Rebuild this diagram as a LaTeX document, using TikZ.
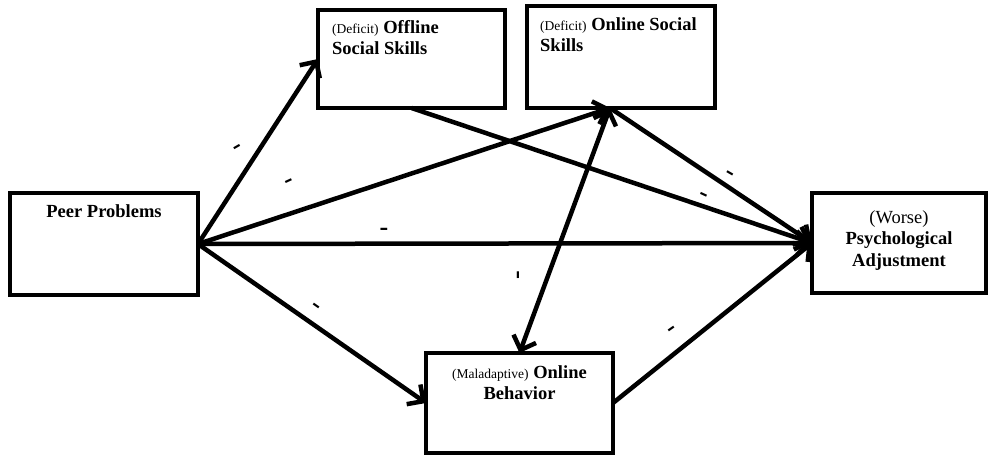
\documentclass[tikz,border=0pt]{standalone}
\usepackage{fontspec}
\setmainfont{Liberation Serif}
\usetikzlibrary{arrows.meta}
\begin{document}
\begin{tikzpicture}[x=1pt,y=-1pt,
  box/.style={draw, line width=4.5pt, inner sep=0pt, outer sep=0pt},
  txt/.style={inner sep=0pt, font=\fontsize{18.5}{21.5}\selectfont},
  tip/.style={Straight Barb[length=12pt,width=24pt,line width=4.5pt]},
  link/.style={line width=4.5pt, -{Straight Barb[length=12pt,width=24pt,line width=4.5pt]}},
  both/.style={line width=4.5pt, {Straight Barb[length=12pt,width=24pt,line width=4.5pt]}-{Straight Barb[length=12pt,width=24pt,line width=4.5pt]}},
  sign/.style={inner sep=0pt, font=\fontsize{26}{26}\selectfont\bfseries}
]
\newcommand{\sm}[1]{{\fontsize{13.5}{21.5}\selectfont #1}}
\useasboundingbox (0,0) rectangle (989,456);

% boxes
\node[box, minimum width=188pt, minimum height=102pt] (peer) at (104,244) {};
\node[box, minimum width=187pt, minimum height=98pt] (off) at (411.5,59) {};
\node[box, minimum width=188pt, minimum height=102pt] (onss) at (621,57) {};
\node[box, minimum width=187pt, minimum height=100pt] (beh) at (519.5,403) {};
\node[box, minimum width=174pt, minimum height=100pt] (psy) at (899,243) {};

% box texts
\node[txt, anchor=north] (peert) at (104,204) {\bfseries Peer Problems};
\node[txt, anchor=north west, align=left] (offt) at (332,20)
  {\sm{(Deficit)} \textbf{Offline}\\\textbf{Social Skills}};
\node[txt, anchor=north west, align=left] (onsst) at (540,17)
  {\sm{(Deficit)} \textbf{Online Social}\\\textbf{Skills}};
\node[txt, anchor=north, align=center] (beht) at (519.5,365)
  {\sm{(Maladaptive)} \textbf{Online}\\\textbf{Behavior}};
\node[txt, anchor=north, align=center] (psyt) at (899,210)
  {(Worse)\\\textbf{Psychological}\\\textbf{Adjustment}};

% connector end points
\coordinate (onssb) at (610,108);

% connectors
\draw[link] (peer.east) -- (off.west);
\draw[link] (peer.east) -- (onssb);
\draw[link] (peer.east) -- (psy.west);
\draw[link] (peer.east) -- (beh.west);
\draw[link] (off.south) -- (psy.west);
\draw[link] (onssb) -- (psy.west);
\draw[both] (onssb) -- (beh.north);
\draw[link] (beh.east) -- (psy.west);

% path signs
\node[sign, rotate=30] (s1) at (238,149) {-};
\node[sign, rotate=25] (s2) at (290,183) {-};
\node[sign] (s3) at (384,232) {-};
\node[sign, rotate=-35] (s4) at (315,308) {-};
\node[sign, rotate=90] (s5) at (521,275) {-};
\node[sign, rotate=35] (s6) at (673,331) {-};
\node[sign, rotate=-30] (s7) at (729,176) {-};
\node[sign, rotate=-25] (s8) at (703,197) {-};
\end{tikzpicture}
\end{document}
